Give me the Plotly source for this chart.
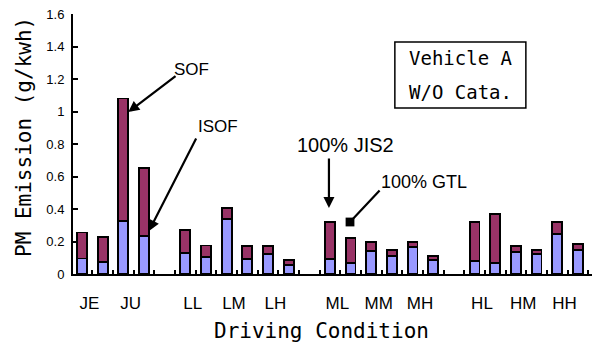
import plotly.graph_objects as go

# Driving conditions, grouped (a blank slot separates each group)
condition_groups = [["JE", "JU"], ["LL", "LM", "LH"], ["ML", "MM", "MH"], ["HL", "HM", "HH"]]

# PM emission split into insoluble (ISOF) and soluble (SOF) fractions, g/kWh
isof_jis2 = [0.096, 0.328, 0.131, 0.338, 0.121, 0.092, 0.144, 0.168, 0.082, 0.133, 0.244]
sof_jis2 = [0.159, 0.752, 0.140, 0.066, 0.051, 0.226, 0.053, 0.029, 0.236, 0.039, 0.074]
isof_gtl = [0.072, 0.234, 0.107, 0.094, 0.055, 0.068, 0.109, 0.084, 0.070, 0.121, 0.146]
sof_gtl = [0.158, 0.416, 0.068, 0.078, 0.031, 0.152, 0.039, 0.027, 0.299, 0.027, 0.039]

y_ticks = [0, 0.2, 0.4, 0.6, 0.8, 1.0, 1.2, 1.4, 1.6]
y_tick_text = ["0", "0.2", "0.4", "0.6", "0.8", "1", "1.2", "1.4", "1.6"]

BLUE = "#9999FF"
MAROON = "#993366"
MONO = "DejaVu Sans Mono, Liberation Mono, monospace"
SANS = "Liberation Sans, Arial, sans-serif"

# slot layout: two bars (JIS2, GTL) per condition, one empty slot between groups
conditions, pos_jis2, pos_gtl = [], [], []
slot = 0
for g, group in enumerate(condition_groups):
    if g > 0:
        slot += 1
    for c in group:
        conditions.append(c)
        pos_jis2.append(slot)
        pos_gtl.append(slot + 1)
        slot += 2

xs, isof, sof = [], [], []
for i in range(len(conditions)):
    xs += [pos_jis2[i], pos_gtl[i]]
    isof += [isof_jis2[i], isof_gtl[i]]
    sof += [sof_jis2[i], sof_gtl[i]]

label_pos = [(a + b) / 2 for a, b in zip(pos_jis2, pos_gtl)]
minor_pos = [s + 0.5 for s in range(slot)]

fig = go.Figure()
fig.add_trace(go.Bar(x=xs, y=isof, name="ISOF", width=0.48,
                     marker=dict(color=BLUE, line=dict(color="black", width=1.8))))
fig.add_trace(go.Bar(x=xs, y=sof, name="SOF", width=0.48,
                     marker=dict(color=MAROON, line=dict(color="black", width=1.8))))

fig.update_layout(
    barmode="stack",
    width=594, height=349,
    margin=dict(l=73, r=2, t=14, b=75),
    paper_bgcolor="white", plot_bgcolor="white",
    showlegend=False,
    font=dict(family=SANS, color="black"),
)

fig.update_xaxes(
    range=[-0.435, 24.68],
    showgrid=False, zeroline=False,
    showline=True, linecolor="black", linewidth=2,
    tickmode="array", tickvals=label_pos, ticktext=conditions,
    ticks="inside", ticklen=4, tickwidth=1.5, tickcolor="black",
    ticklabelshift=-3, ticklabelstandoff=13,
    tickfont=dict(family=SANS, size=17, color="black"),
    minor=dict(tickmode="array", tickvals=minor_pos, ticks="inside",
               ticklen=4, tickwidth=1.5, tickcolor="black"),
)
fig.update_yaxes(
    range=[0, 1.6],
    showgrid=False, zeroline=False,
    showline=True, linecolor="black", linewidth=2,
    tickmode="array", tickvals=y_ticks, ticktext=y_tick_text,
    ticks="inside", ticklen=5, tickwidth=1.5, tickcolor="black",
    ticklabelstandoff=4,
    tickfont=dict(family=SANS, size=13, color="black"),
)

# axis titles
fig.add_annotation(text="Driving Condition", xref="paper", yref="paper",
                   x=(321 - 73) / 519, y=-(331 - 274) / 260,
                   xanchor="center", yanchor="middle", showarrow=False,
                   font=dict(family=MONO, size=21, color="black"))
fig.add_annotation(text="PM Emission (g/kwh)", xref="paper", yref="paper",
                   x=-(73 - 24) / 519, y=(274 - 137) / 260, textangle=-90,
                   xanchor="center", yanchor="middle",
                   showarrow=False, font=dict(family=MONO, size=21, color="black"))

# call-outs
def arrow(x, y, ax, ay, head=2):
    fig.add_annotation(x=x, y=y, ax=ax, ay=ay, axref="x", ayref="y",
                       xref="x", yref="y", text="", showarrow=True,
                       arrowhead=head, arrowsize=1, arrowwidth=2.2,
                       arrowcolor="black", standoff=0)

def label(x, y, text, size):
    fig.add_annotation(x=x, y=y, xref="x", yref="y", text=text, showarrow=False,
                       xanchor="center", yanchor="middle",
                       font=dict(family=SANS, size=size, color="black"))

label(5.32, 1.26, "SOF", 17)
arrow(2.24, 0.997, 4.6, 1.225)
label(6.58, 0.905, "ISOF", 17)
arrow(3.24, 0.265, 5.56, 0.843)
label(12.77, 0.794, "100% JIS2", 20)
arrow(11.95, 0.406, 11.95, 0.72)
label(16.55, 0.566, "100% GTL", 18)
arrow(12.97, 0.32, 14.47, 0.523, head=7)

# vehicle info box
fig.add_shape(type="rect", xref="x", yref="y", x0=15.14, x1=21.48, y0=1.022, y1=1.428,
              line=dict(color="black", width=1.5), fillcolor="white")
fig.add_annotation(x=15.72, y=1.33, xref="x", yref="y", xanchor="left",
                   text="Vehicle A", showarrow=False,
                   font=dict(family=MONO, size=19, color="black"))
fig.add_annotation(x=15.72, y=1.12, xref="x", yref="y", xanchor="left",
                   text="W/O Cata.", showarrow=False,
                   font=dict(family=MONO, size=19, color="black"))

fig.write_html("out.html")
